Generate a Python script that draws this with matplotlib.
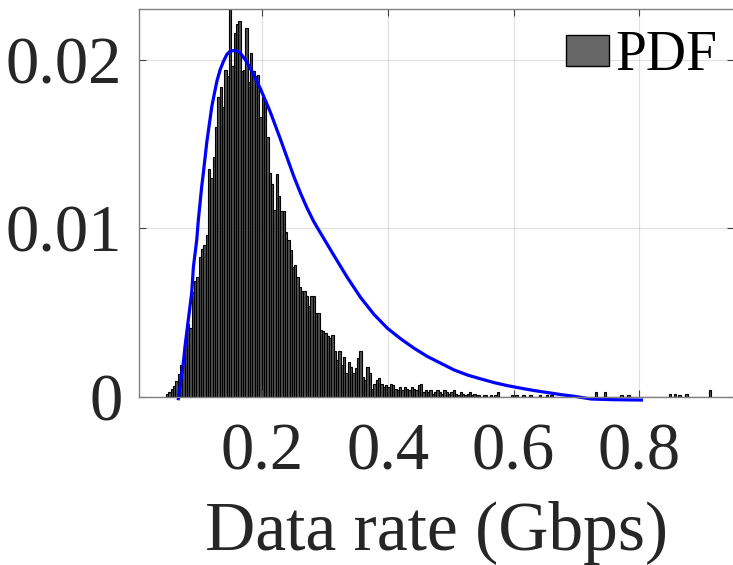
import numpy as np
import matplotlib
matplotlib.use("Agg")
import matplotlib.pyplot as plt
from matplotlib.patches import Patch

# ---- data ----
bin_start = 0.048
bin_width = 0.0037
pdf_heights = [
    0.00016, 0.0003, 0.0005, 0.00067, 0.00095, 0.00135, 0.0019, 0.0022, 0.0031, 0.0043,
    0.0041, 0.0062, 0.0069, 0.0071, 0.0083, 0.0088, 0.0090, 0.0096, 0.0135, 0.0130,
    0.0142, 0.0160, 0.0178, 0.0184, 0.0172, 0.0194, 0.0190, 0.0240, 0.0196, 0.0216,
    0.0221, 0.0223, 0.0193, 0.0194, 0.0219, 0.0187, 0.0204, 0.0193, 0.0190, 0.0191,
    0.0166, 0.0178, 0.0176, 0.0154, 0.0133, 0.0126, 0.0111, 0.0132, 0.0119, 0.0110,
    0.0110, 0.0098, 0.0093, 0.0087, 0.0077, 0.0078, 0.0071, 0.0065, 0.0063, 0.0063,
    0.0060, 0.0054, 0.0060, 0.0060, 0.0050, 0.0050, 0.0040, 0.0039, 0.0038, 0.0036,
    0.0035, 0.0037, 0.0027, 0.0022, 0.0027, 0.0019, 0.0024, 0.0014, 0.0021, 0.0018,
    0.0014, 0.0017, 0.0023, 0.0027, 0.0012, 0.0010, 0.0018, 0.0014, 0.0005, 0.0008,
    0.0010, 0.0011, 0.0008, 0.0006, 0.0007, 0.0006, 0.0008, 0.0007, 0.0005, 0.0004,
    0.0006, 0.0004, 0.0006, 0.0005, 0.0004, 0.0006, 0.0005, 0.0004, 0.0007, 0.0008,
    0.0003, 0.0004, 0.0003, 0.0004, 0.0002, 0.0003, 0.0004, 0.0003, 0.0002, 0.0004,
    0.0003, 0.0002, 0.0003, 0.0004, 0.0002, 0.0001, 0.0003, 0.0002, 0.0001, 0.0002,
    0.0003, 0.0001, 0.0002, 0.0001, 0.0001, 0.0, 0.0001, 0.0001, 0.0, 0.0001,
    0.0, 0.0001, 0.0003, 0.0, 0.0, 0.0, 0.0, 0.0, 0.0001, 0.0,
    0.0001, 0.0, 0.0, 0.0001, 0.0, 0.0, 0.0001, 0.0, 0.0, 0.0,
    0.0001, 0.0, 0.0, 0.0001, 0.0, 0.0001, 0.0, 0.0, 0.0, 0.0,
    0.0, 0.0, 0.0, 0.0, 0.0, 0.0, 0.0, 0.0, 0.0, 0.0,
    0.0, 0.0, 0.0, 0.0, 0.0003, 0.0, 0.0, 0.0, 0.0003, 0.0,
    0.0, 0.0, 0.0, 0.0, 0.0, 0.0001, 0.0, 0.0, 0.0001, 0.0,
    0.0, 0.0, 0.0, 0.0, 0.0, 0.0, 0.0, 0.0, 0.0, 0.0,
    0.0, 0.0, 0.0, 0.0, 0.0, 0.0, 0.0002, 0.0, 0.0002, 0.0,
    0.0001, 0.0, 0.0, 0.0002, 0.0, 0.0, 0.0, 0.0, 0.0, 0.0,
    0.0, 0.0, 0.0, 0.0004,
]

curve_x = [0.0675, 0.0754, 0.0781, 0.0834, 0.0888, 0.0914, 0.0967, 0.0993, 0.1047,
           0.1073, 0.1127, 0.1153, 0.1206, 0.1232, 0.1286, 0.1339, 0.1392, 0.1445,
           0.1498, 0.1578, 0.1657, 0.1737, 0.1817, 0.1896, 0.1976, 0.2056, 0.2135,
           0.2215, 0.2295, 0.2401, 0.2507, 0.2614, 0.2720, 0.2826, 0.2985, 0.3145,
           0.3357, 0.3570, 0.3782, 0.3995, 0.4207, 0.4420, 0.4632, 0.4845, 0.5057,
           0.5270, 0.5482, 0.5694, 0.5907, 0.6120, 0.6332, 0.6545, 0.6757, 0.6969,
           0.7235, 0.76, 0.8032]
curve_y = [-0.0001, 0.0020, 0.0030, 0.0046, 0.0062, 0.0077, 0.0093, 0.0105, 0.0125,
           0.0133, 0.0151, 0.0158, 0.0172, 0.0177, 0.0187, 0.0194, 0.0199, 0.0203,
           0.0205, 0.02055, 0.0204, 0.0200, 0.0195, 0.0189, 0.0183, 0.0176, 0.0169,
           0.0161, 0.0153, 0.0142, 0.0131, 0.0121, 0.0112, 0.0104, 0.0094, 0.0084,
           0.0071, 0.0059, 0.00490, 0.00408, 0.00345, 0.00289, 0.00240, 0.0020, 0.0016,
           0.0013, 0.00107, 0.00085, 0.00067, 0.00052, 0.00038, 0.00026, 0.00014, 0.00004,
           -0.00012, -0.00016, -0.00018]

x_ticks = [0.2, 0.4, 0.6, 0.8]
x_tick_labels = ["0.2", "0.4", "0.6", "0.8"]
y_ticks = [0, 0.01, 0.02]
y_tick_labels = ["0", "0.01", "0.02"]

# ---- plot ----
plt.rcParams['font.family'] = ['Liberation Serif', 'DejaVu Serif']
fig = plt.figure(figsize=(7.33, 5.65), dpi=100)
ax = fig.add_axes([139 / 733, 1 - 397 / 565, 1 - 139 / 733 + 0.002, (397 - 9) / 565])

heights = np.array(pdf_heights)
lefts = bin_start + bin_width * np.arange(len(heights))
ax.bar(lefts, heights, width=bin_width, align='edge', facecolor='#505050',
       edgecolor='black', linewidth=0.8, zorder=2)
ax.plot(curve_x, curve_y, color='#0000ff', linewidth=2.3, zorder=4, clip_on=False,
        solid_joinstyle='round')

ax.set_xlim(0.005, 0.951)
ax.set_ylim(0, 0.0230)
ax.set_xticks(x_ticks)
ax.set_xticklabels(x_tick_labels)
ax.set_yticks(y_ticks)
ax.set_yticklabels(y_tick_labels)

ax.grid(True, color='black', alpha=0.12, linewidth=0.8, zorder=3)
ax.set_axisbelow(False)
for s in ax.spines.values():
    s.set_color('#808080')
    s.set_linewidth(1.0)
    s.set_zorder(5)

ax.tick_params(axis='both', direction='in', length=5, width=0.8, color='#404040',
               labelcolor='#262626', labelsize=48, top=True, right=True)
ax.tick_params(axis='x', pad=18)
ax.tick_params(axis='y', pad=12)

ax.set_xlabel('Data rate (Gbps)', fontsize=50, color='#262626', labelpad=13)

handle = Patch(facecolor='#666666', edgecolor='black', linewidth=1.0)
leg = ax.legend([handle], ['PDF'], loc='upper right',
                bbox_to_anchor=(717 / 733, 1 - 30 / 565),
                bbox_transform=fig.transFigure, frameon=False, fontsize=40,
                handlelength=0.78, handleheight=0.47, handletextpad=0.1,
                borderpad=0, borderaxespad=0)

fig.savefig('out.png', dpi=100)
